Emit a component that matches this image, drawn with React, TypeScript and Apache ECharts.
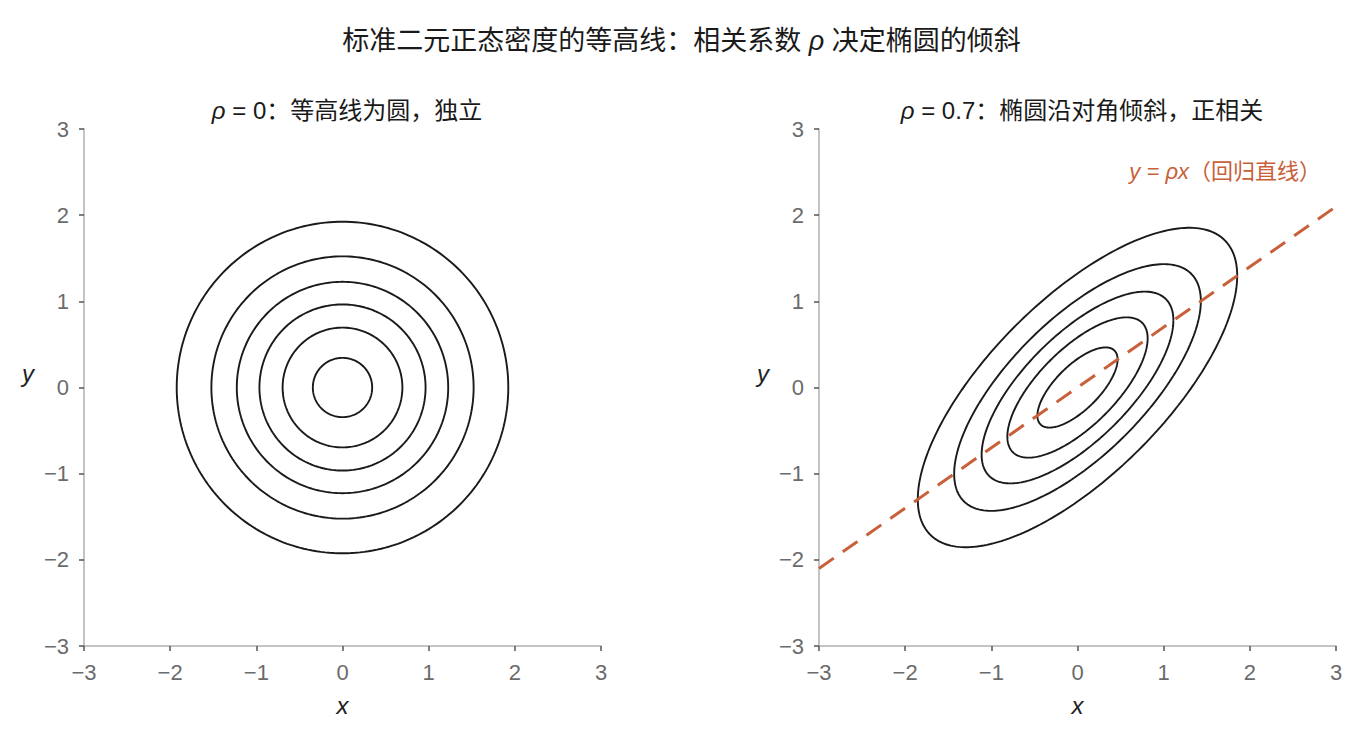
import React, { useEffect, useRef } from 'react';
import * as echarts from 'echarts';

// correlation of each panel
const rhoValues = [0, 0.7];
// density levels drawn as contours in each panel
const leftLevels = [0.025, 0.05, 0.075, 0.1, 0.125, 0.15];
const rightLevels = [0.04, 0.08, 0.12, 0.16, 0.2];
const axisTicks = [-3, -2, -1, 0, 1, 2, 3];
const titleParts = ['标准二元正态密度的等高线：相关系数 ', 'ρ', ' 决定椭圆的倾斜'];
const panelTitles = ['：等高线为圆，独立', '：椭圆沿对角倾斜，正相关'];
const regressionLabel = ['y = ρx', '（回归直线）'];

const FONT = '"Liberation Sans", "Noto Sans CJK SC", sans-serif';
const LINE = '#1a1a1a';
const ORANGE = '#c8603a';

// contour of the bivariate normal density at level f, as a closed polyline
const contour = (rho: number, f: number): number[][] => {
	const s = Math.sqrt(1 - rho * rho);
	const peak = 1 / (2 * Math.PI * s);
	const d = Math.sqrt(-2 * Math.log(f / peak));
	const pts: number[][] = [];
	const n = 240;
	for (let i = 0; i <= n; i++) {
		const t = (i / n) * Math.PI * 2;
		const x = d * Math.cos(t);
		const y = d * (rho * Math.cos(t) + s * Math.sin(t));
		pts.push([x, y]);
	}
	return pts;
};

const minus = (v: number) => String(v).replace('-', '\u2212');

const App: React.FC = () => {
	const chartRef = useRef<HTMLDivElement>(null);

	useEffect(() => {
		document.body.style.margin = '0';
		if (!chartRef.current) return;
		const chart = echarts.init(chartRef.current, undefined, { renderer: 'svg' });

		const makeX = (idx: number) => ({
			type: 'value' as const,
			gridIndex: idx,
			min: axisTicks[0],
			max: axisTicks[axisTicks.length - 1],
			interval: 1,
			name: 'x',
			nameLocation: 'middle' as const,
			nameGap: 47,
			nameTextStyle: { fontSize: 24, fontStyle: 'italic', color: '#222', fontFamily: FONT },
			axisLine: { show: true, onZero: false, lineStyle: { color: '#b0b0b0', width: 1.5 } },
			axisTick: { show: true, length: 5, lineStyle: { color: '#555', width: 1.5 } },
			axisLabel: { fontSize: 22, color: '#6b6b6b', margin: 15, fontFamily: FONT, formatter: minus },
			splitLine: { show: false }
		});
		const makeY = (idx: number) => ({
			type: 'value' as const,
			gridIndex: idx,
			min: axisTicks[0],
			max: axisTicks[axisTicks.length - 1],
			interval: 1,
			name: 'y',
			nameLocation: 'middle' as const,
			nameGap: 50,
			nameRotate: 0,
			nameTextStyle: { fontSize: 24, fontStyle: 'italic', color: '#222', fontFamily: FONT, verticalAlign: 'bottom', padding: [0, 0, 2, 0] },
			axisLine: { show: true, onZero: false, lineStyle: { color: '#b0b0b0', width: 1.5 } },
			axisTick: { show: true, length: 5, lineStyle: { color: '#555', width: 1.5 } },
			axisLabel: { fontSize: 22, color: '#6b6b6b', margin: 15, fontFamily: FONT, formatter: minus },
			splitLine: { show: false }
		});

		const contourSeries = (levels: number[], rho: number, idx: number) =>
			levels.map(f => ({
				type: 'line' as const,
				xAxisIndex: idx,
				yAxisIndex: idx,
				data: contour(rho, f),
				showSymbol: false,
				symbol: 'none',
				smooth: false,
				lineStyle: { color: LINE, width: 1.9 },
				silent: true
			}));

		const rhoR = rhoValues[1];
		const regression = axisTicks.filter((_, i) => i === 0 || i === axisTicks.length - 1).map(x => [x, rhoR * x]);

		const italic = (size: number, color: string) => ({ fontSize: size, fontStyle: 'italic', color, fontFamily: FONT });
		const panelTitle = (i: number, center: number) => ({
			text: `{i|ρ} = ${rhoValues[i]}${panelTitles[i]}`,
			left: center,
			textAlign: 'center',
			top: 93,
			textStyle: {
				fontSize: 24,
				fontWeight: 'normal',
				color: '#1a1a1a',
				fontFamily: FONT,
				rich: { i: italic(24, '#1a1a1a') }
			}
		});

		const option: echarts.EChartsOption = {
			animation: false,
			backgroundColor: '#ffffff',
			title: [
				{
					text: `${titleParts[0]}{i|${titleParts[1]}}${titleParts[2]}`,
					left: 'center',
					top: 22,
					textStyle: {
						fontSize: 27,
						fontWeight: 'normal',
						color: '#1a1a1a',
						fontFamily: FONT,
						rich: { i: italic(27, '#1a1a1a') }
					}
				},
				panelTitle(0, 342) as any,
				panelTitle(1, 1077) as any
			],
			grid: [
				{ left: 84, top: 129, width: 517, height: 517 },
				{ left: 819, top: 129, width: 517, height: 517 }
			],
			xAxis: [makeX(0), makeX(1)],
			yAxis: [makeY(0), makeY(1)],
			graphic: [
				{
					type: 'text',
					right: 42,
					top: 160,
					style: {
						text: `{i|${regressionLabel[0]}}${regressionLabel[1]}`,
						fill: ORANGE,
						fontSize: 22,
						fontFamily: FONT,
						rich: { i: { fontStyle: 'italic', fontSize: 22, fill: ORANGE, fontFamily: FONT } }
					} as any
				}
			],
			series: [
				...contourSeries(leftLevels, rhoValues[0], 0),
				...contourSeries(rightLevels, rhoValues[1], 1),
				{
					type: 'line',
					xAxisIndex: 1,
					yAxisIndex: 1,
					data: regression,
					showSymbol: false,
					symbol: 'none',
					lineStyle: { color: ORANGE, width: 3, type: [18, 11] },
					silent: true,
					z: 3
				}
			]
		};

		chart.setOption(option);
		return () => {
			chart.dispose();
		};
	}, []);

	return <div ref={chartRef} style={{ width: '1363px', height: '739px' }} />;
};

export default App;
